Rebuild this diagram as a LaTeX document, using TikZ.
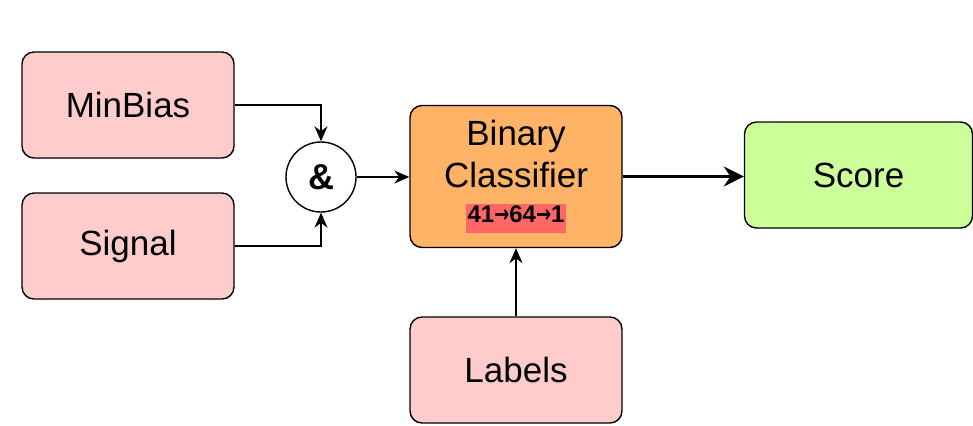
\documentclass[tikz,border=0pt]{standalone}
\usepackage{fontspec}
\setmainfont{Liberation Sans}
\newfontfamily\arrowfont{DejaVu Sans}
\usetikzlibrary{positioning,arrows.meta}
\definecolor{inpink}{HTML}{FFCCCC}
\definecolor{clforange}{HTML}{FFB366}
\definecolor{scgreen}{HTML}{CCFF99}
\definecolor{dimred}{HTML}{FF6666}

% small arrow between layer sizes
\newcommand{\lyr}{{\arrowfont\scalebox{.75}[1]{→}}}

\tikzset{
  blk/.style={draw=black,line width=.7pt,rounded corners=6pt,minimum width=106pt,minimum height=53pt,
    font=\fontsize{17.5}{21}\selectfont,align=center,inner sep=2pt},
  conn/.style={-{Stealth[length=7.5pt,width=6.5pt]},line width=.6pt},
}

\begin{document}
\begin{tikzpicture}[x=.5pt,y=-.5pt]
\useasboundingbox (0,0) rectangle (973,425);
% inputs
\node[blk,fill=inpink] (minbias) at (128,105) {MinBias};
\node[blk,fill=inpink] (signal) at (128,246) {Signal};
\node[draw,circle,line width=.7pt,minimum size=35pt,inner sep=0pt,font=\fontsize{18}{18}\selectfont\bfseries] (merge) at (321,177) {\&};
% classifier and output
\node[blk,fill=clforange,minimum height=71pt] (clf) at (516,176.5)
  {Binary\\Classifier\\[-3.5pt]{\fontsize{12}{12}\selectfont\bfseries\setlength{\fboxsep}{1pt}%
   \colorbox{dimred}{\rule[-4pt]{0pt}{12pt}41\lyr64\lyr1}}};
\node[blk,fill=scgreen,minimum width=114pt] (score) at (858.5,175) {Score};
\node[blk,fill=inpink] (labels) at (516,370) {Labels};

\draw[conn] (minbias.east) -| (merge.north);
\draw[conn] (signal.east) -| (merge.south);
\draw[conn] (merge.east) -- (merge.east -| clf.west);
\draw[-{Stealth[length=10pt,width=10pt]},line width=1.3pt] (clf.east) -- (clf.east -| score.west);
\draw[conn] (labels.north) -- (labels.north |- clf.south);
\end{tikzpicture}
\end{document}
